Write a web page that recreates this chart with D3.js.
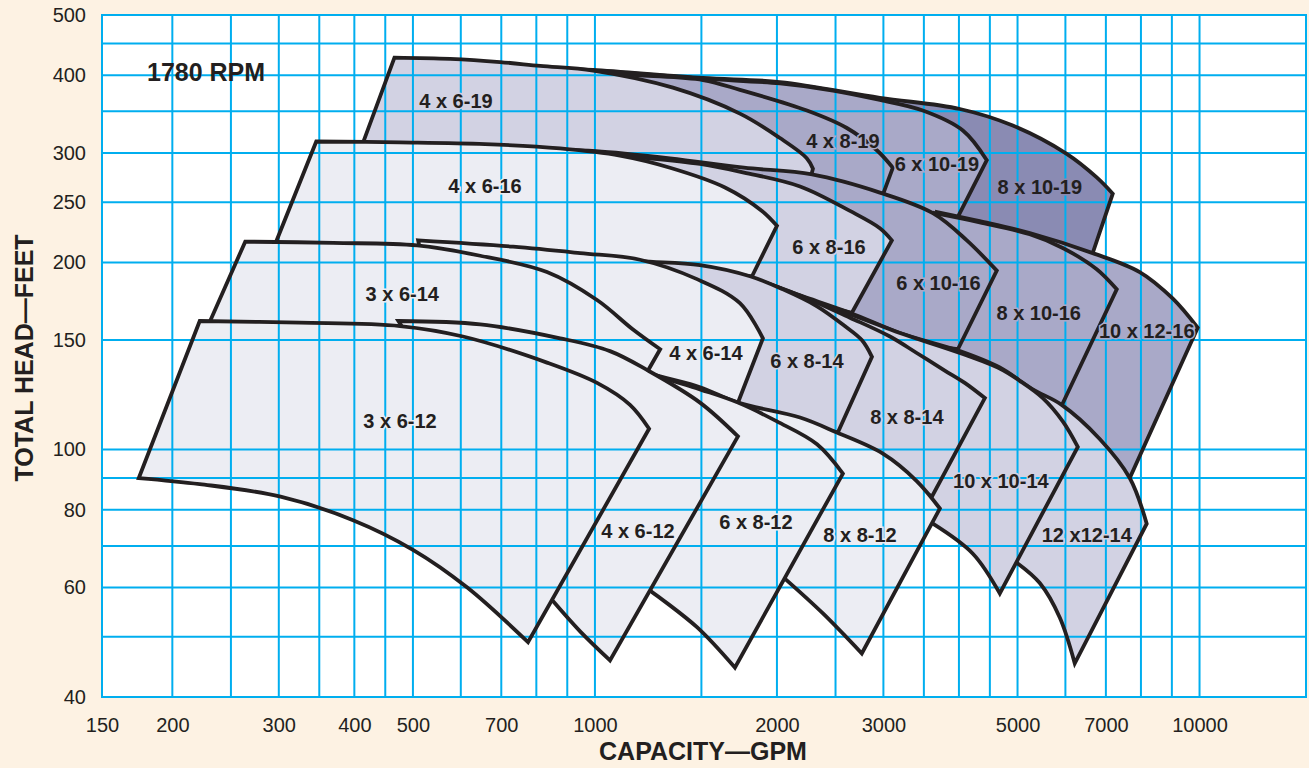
<!DOCTYPE html>
<html>
<head>
<meta charset="utf-8">
<script src="https://cdn.jsdelivr.net/npm/d3@7"></script>
<style>
  body { margin: 0; background: #fdf2e3; }
  svg { display: block; font-family: "Liberation Sans", Arial, Helvetica, sans-serif; }
</style>
</head>
<body>
<svg id="chart" width="1309" height="768"></svg>
<script>
// axis ticks and grid (GPM / feet)
const xTicks = [150, 200, 300, 400, 500, 700, 1000, 2000, 3000, 5000, 7000, 10000];
const yTicks = [40, 60, 80, 100, 150, 200, 250, 300, 400, 500];
const xGrid = [200, 250, 300, 350, 400, 450, 500, 600, 700, 800, 900, 1000, 1500, 2000, 2500,
               3000, 3500, 4000, 4500, 5000, 6000, 7000, 8000, 9000, 10000];
const yGrid = [50, 60, 70, 80, 90, 100, 150, 200, 250, 300, 350, 400, 450];

// pump coverage areas, [gpm, feet]
// top = max impeller curve, right = end of curve, bottom = min impeller, back = part hidden by the next pump
const r8x10_19 = {
  top: [[876,410],[993,408],[1509,396],[2023,390],[2960,368],[4014,353],[4910,332],[6030,299],[6760,274],[7186,258]],
  right: [[7186,258],[6634,205]],
  back: [[6634,205],[5654,211],[4330,227],[3720,230],[3194,247],[2184,271],[1492,279],[1020,292],[876,292],[876,410]]
};
const r6x10_19 = {
  top: [[876,408],[993,407],[1509,395],[2023,388],[2476,378],[2960,365],[3486,351],[4060,326],[4448,292]],
  right: [[4448,292],[3968,235]],
  back: [[3968,235],[3720,230],[3194,247],[2184,271],[1492,279],[1020,292],[876,292],[876,408]]
};
const r4x8_19 = {
  top: [[876,407],[1187,400],[1509,393],[1737,379],[2242,351],[2610,329],[2926,303],[3110,284]],
  right: [[3110,284],[2994,257]],
  back: [[2994,257],[2641,256],[2023,269],[1492,279],[1020,292],[876,292],[876,407]]
};
const r4x6_19 = {
  top: [[466,427],[576,425],[697,420],[812,414],[993,407],[1346,382],[1737,347],[2023,317],[2242,294],[2294,283]],
  right: [[2294,283],[2276,275]],
  back: [[2276,275],[2023,271],[1492,279],[1020,292],[476,303],[406,297],[466,427]]
};
const r10x12_16 = {
  top: [[3680,241],[4330,233],[5238,223],[6658,207],[7962,193],[9026,175],[9930,157]],
  right: [[9930,157],[7666,90]],
  back: [[7666,90],[6838,101.5],[5916,115],[4673,131.5],[3790,142],[3680,241]]
};
const r8x10_16 = {
  top: [[3650,240],[4330,232],[5238,222],[5940,211],[6760,195],[7296,181]],
  right: [[7296,181],[5916,117.7]],
  back: [[5916,117.7],[5238,122],[4014,139],[3720,141],[3650,240]]
};
const r6x10_16 = {
  top: [[876,303],[1004,302],[1331,294],[1764,284],[2286,277],[2960,259],[3622,240],[4122,217],[4620,194]],
  right: [[4620,194],[3984,145]],
  back: [[3984,145],[3194,149],[2184,172.5],[1805,185],[1492,193],[1020,197],[876,200],[876,303]]
};
const r6x8_16 = {
  top: [[876,302],[1187,295],[1492,288],[1764,279],[2184,265],[2641,242],[2960,227],[3098,217]],
  right: [[3098,217],[2661,166]],
  back: [[2661,166],[2184,174],[1805,185],[1492,193],[1187,197],[876,200],[876,302]]
};
const r4x6_16 = {
  top: [[346,313],[476,312],[658,310],[876,305],[1100,297],[1331,284],[1641,264],[1889,242],[2000,229]],
  right: [[2000,229],[1819,190]],
  back: [[1819,190],[1492,194],[1187,198],[732,207],[510,209],[325,210],[293,209],[346,313]]
};
const r12x12_14 = {
  top: [[1492,197],[1805,189],[2184,177],[2641,166],[3194,154],[4014,144],[4673,135.5],[5298,125],[5916,118],[6838,104],[7666,90],[8178,76]],
  right: [[8178,76],[6218,45.3]],
  bottom: [[6218,45.3],[5872,53.7],[5442,61],[5004,65.6]],
  back: [[5004,65.6],[4673,70],[4014,89],[3194,111],[2023,129],[1492,174],[1492,197]]
};
const r10x10_14 = {
  top: [[2356,170],[2641,165],[3194,154],[4014,143],[4673,135],[5042,129],[5506,121],[5940,111],[6290,101]],
  right: [[6290,101],[4673,58.7]],
  bottom: [[4673,58.7],[4218,68],[3622,76]],
  back: [[3622,76],[3446,78],[3194,90],[2448,111],[2356,170]]
};
const r8x8_14 = {
  top: [[1492,197.5],[1805,189],[2184,177],[2641,163],[3076,152],[3406,143],[3790,134],[4090,128],[4415,121]],
  right: [[4415,121],[3608,84]],
  back: [[3608,84],[3194,91],[2522,103],[1805,113],[1492,122],[1492,197.5]]
};
const r6x8_14 = {
  top: [[876,206],[1187,201],[1492,198],[1805,190],[2046,181],[2330,170],[2590,158],[2763,150],[2872,141]],
  right: [[2872,141],[2522,106.5]],
  back: [[2522,106.5],[2184,110.5],[1724,116.8],[1492,123.5],[1233,130],[876,145],[876,206]]
};
const r4x6_14 = {
  top: [[510,217],[732,212],[945,207],[1187,202],[1475,188],[1737,172],[1896,151]],
  right: [[1896,151],[1724,119]],
  back: [[1724,119],[1492,123.5],[1224,130],[843,147],[534,152],[514,209],[510,217]]
};
const r3x6_14 = {
  top: [[264,216],[369,215],[508,213],[646,205],[833,193],[1008,174],[1156,156],[1282,145]],
  right: [[1282,145],[1224,134]],
  back: [[1224,134],[1020,138],[576,150],[325,155],[227,155],[264,216]]
};
const r8x8_12 = {
  top: [[876,148],[1059,142],[1224,133],[1492,126],[1724,119],[2184,112.6],[2514,106.5],[2994,98.5],[3406,89],[3720,80.4]],
  right: [[3720,80.4],[2763,47]],
  bottom: [[2763,47],[2383,54.5],[2061,62]],
  back: [[2061,62],[1875,69],[1492,92.5],[1100,120],[876,148]]
};
const r6x8_12 = {
  top: [[622,156],[876,150],[1059,143],[1224,133],[1492,125],[1724,119],[2000,111],[2330,102],[2571,91.5]],
  right: [[2571,91.5],[1704,44.6]],
  bottom: [[1704,44.6],[1475,51.8],[1243,59]],
  back: [[1243,59],[1100,66],[876,100],[646,150],[622,156]]
};
const r4x6_12 = {
  top: [[473,161],[646,159],[876,151],[1059,144],[1224,134],[1492,119],[1724,105]],
  right: [[1724,105],[1059,45.8]],
  bottom: [[1059,45.8],[945,51],[853,57]],
  back: [[853,57],[697,66],[555,83],[485,155],[473,161]]
};
const r3x6_12 = {
  top: [[222,161],[325,160],[476,158],[605,152],[833,138],[1008,128],[1143,118],[1229,108]],
  right: [[1229,108],[775,49]],
  bottom: [[775,49],[615,60],[500,69],[398,77],[302,84],[222,88],[176,90]],
  back: [[176,90],[222,161]]
};

// back to front
const regionOrder = [
  ["8x10-19", r8x10_19], ["6x10-19", r6x10_19], ["4x8-19", r4x8_19], ["4x6-19", r4x6_19],
  ["10x12-16", r10x12_16], ["8x10-16", r8x10_16], ["6x10-16", r6x10_16], ["6x8-16", r6x8_16], ["4x6-16", r4x6_16],
  ["12x12-14", r12x12_14], ["10x10-14", r10x10_14], ["8x8-14", r8x8_14], ["6x8-14", r6x8_14], ["4x6-14", r4x6_14], ["3x6-14", r3x6_14],
  ["8x8-12", r8x8_12], ["6x8-12", r6x8_12], ["4x6-12", r4x6_12], ["3x6-12", r3x6_12]
];

// label text, gpm, feet
const labels = [
  ["4 x 6-19", 589, 364], ["4 x 8-19", 2571, 314], ["6 x 10-19", 3678, 288], ["8 x 10-19", 5442, 264],
  ["4 x 6-16", 658, 265], ["6 x 8-16", 2438, 212], ["6 x 10-16", 3700, 185], ["8 x 10-16", 5420, 166], ["10 x 12-16", 8178, 155],
  ["3 x 6-14", 480, 178], ["4 x 6-14", 1526, 143], ["6 x 8-14", 2242, 139], ["8 x 8-14", 3280, 113],
  ["10 x 10-14", 4692, 89], ["12 x12-14", 6508, 73],
  ["3 x 6-12", 476, 111], ["4 x 6-12", 1178, 74], ["6 x 8-12", 1846, 76.6], ["8 x 8-12", 2744, 73]
];

const width = 1309, height = 768;
const plot = { left: 102, right: 1306, top: 15, bottom: 697 };
const ink = "#231f20";
const gridBlue = "#00aeef";

const shade = {
  "8x10-19": "#8a8bb3",
  "6x10-19": "#a9a9c8", "4x8-19": "#a9a9c8", "10x12-16": "#a9a9c8", "8x10-16": "#a9a9c8", "6x10-16": "#a9a9c8",
  "4x6-19": "#d2d2e3", "6x8-16": "#d2d2e3", "12x12-14": "#d2d2e3", "10x10-14": "#d2d2e3", "8x8-14": "#d2d2e3", "6x8-14": "#d2d2e3",
  "4x6-16": "#ecedf3", "4x6-14": "#ecedf3", "3x6-14": "#ecedf3", "8x8-12": "#ecedf3", "6x8-12": "#ecedf3",
  "4x6-12": "#ecedf3", "3x6-12": "#ecedf3"
};

const x = d3.scaleLog().domain([153, 15000]).range([plot.left, plot.right]).clamp(true);
const y = d3.scaleLog().domain([40, 500]).range([plot.bottom, plot.top]);

const svg = d3.select("#chart");

svg.append("rect").attr("width", width).attr("height", height).attr("fill", "#fdf2e3");
svg.append("rect")
  .attr("x", plot.left).attr("y", plot.top)
  .attr("width", plot.right - plot.left).attr("height", plot.bottom - plot.top)
  .attr("fill", "#fff");

const curved = d3.line().x(d => x(d[0])).y(d => y(d[1])).curve(d3.curveCatmullRom.alpha(0.5));
const straight = d3.line().x(d => x(d[0])).y(d => y(d[1]));

//joins the edges into one closed path, dropping the repeated start points
function outline(r) {
  var parts = [curved(r.top)];
  parts.push(straight(r.right).replace(/^M[^LC]*/, ""));
  if (r.bottom) parts.push(curved(r.bottom).replace(/^M[^LC]*/, ""));
  parts.push(straight(r.back).replace(/^M[^LC]*/, ""));
  return parts.join("") + "Z";
}

// fills, layered
svg.append("g")
  .selectAll("path")
  .data(regionOrder)
  .join("path")
  .attr("d", d => outline(d[1]))
  .attr("fill", d => shade[d[0]]);

// grid over the fills
const grid = svg.append("g").attr("stroke", gridBlue).attr("stroke-width", 2);
grid.selectAll("line.v")
  .data(xGrid)
  .join("line")
  .attr("class", "v")
  .attr("x1", d => x(d)).attr("x2", d => x(d))
  .attr("y1", plot.top).attr("y2", plot.bottom);
grid.selectAll("line.h")
  .data(yGrid)
  .join("line")
  .attr("class", "h")
  .attr("y1", d => y(d)).attr("y2", d => y(d))
  .attr("x1", plot.left).attr("x2", plot.right);
grid.append("rect")
  .attr("x", plot.left).attr("y", plot.top)
  .attr("width", plot.right - plot.left).attr("height", plot.bottom - plot.top)
  .attr("fill", "none");

// outlines on top of the grid: a mask keeps only the edges that are not covered by a pump in front
const mask = svg.append("defs").append("mask")
  .attr("id", "edges")
  .attr("maskUnits", "userSpaceOnUse")
  .attr("x", 0).attr("y", 0).attr("width", width).attr("height", height);
mask.append("rect").attr("width", width).attr("height", height).attr("fill", "#000");
mask.selectAll("path")
  .data(regionOrder)
  .join("path")
  .attr("d", d => outline(d[1]))
  .attr("fill", "#000")
  .attr("stroke", "#fff")
  .attr("stroke-width", 3.8)
  .attr("stroke-linejoin", "miter")
  .attr("stroke-miterlimit", 10);
svg.append("rect")
  .attr("width", width).attr("height", height)
  .attr("fill", ink)
  .attr("mask", "url(#edges)");

// pump labels
svg.append("g")
  .selectAll("text")
  .data(labels)
  .join("text")
  .attr("x", d => x(d[1]))
  .attr("y", d => y(d[2]))
  .attr("text-anchor", "middle")
  .attr("dominant-baseline", "central")
  .attr("font-size", 20)
  .attr("font-weight", "bold")
  .attr("fill", ink)
  .attr("stroke", d => shade[d[0].replace(/ /g, "")])
  .attr("stroke-width", 3)
  .attr("paint-order", "stroke")
  .text(d => d[0]);

svg.append("text")
  .attr("x", 147).attr("y", 72)
  .attr("dominant-baseline", "central")
  .attr("font-size", 25)
  .attr("font-weight", "bold")
  .attr("fill", ink)
  .text("1780 RPM");

// axes
const xAxis = svg.append("g")
  .attr("transform", "translate(0," + plot.bottom + ")")
  .call(d3.axisBottom(x).tickValues(xTicks).tickSize(0).tickPadding(21).tickFormat(d3.format("d")));
xAxis.select(".domain").remove();
xAxis.attr("font-size", 20).attr("font-family", null);
xAxis.selectAll("text").attr("fill", ink);

const yAxis = svg.append("g")
  .attr("transform", "translate(" + plot.left + ",0)")
  .call(d3.axisLeft(y).tickValues(yTicks).tickSize(0).tickPadding(16).tickFormat(d3.format("d")));
yAxis.select(".domain").remove();
yAxis.attr("font-size", 20).attr("font-family", null);
yAxis.selectAll("text").attr("fill", ink);

svg.append("text")
  .attr("x", 703).attr("y", 751)
  .attr("text-anchor", "middle")
  .attr("dominant-baseline", "central")
  .attr("font-size", 25)
  .attr("font-weight", "bold")
  .attr("fill", ink)
  .text("CAPACITY\u2014GPM");

svg.append("text")
  .attr("transform", "translate(24,358) rotate(-90)")
  .attr("text-anchor", "middle")
  .attr("dominant-baseline", "central")
  .attr("font-size", 25)
  .attr("font-weight", "bold")
  .attr("fill", ink)
  .text("TOTAL HEAD\u2014FEET");
</script>
</body>
</html>
